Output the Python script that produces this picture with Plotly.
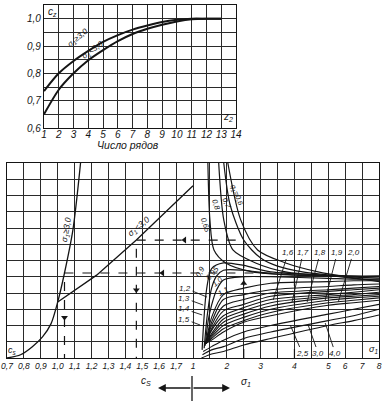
import plotly.graph_objects as go

# ---------------- top chart: c_z vs number of rows ----------------
rows = [1, 2, 3, 4, 5, 6, 7, 8, 9, 10, 11, 12, 13]
cz_sigma_ge3 = [0.735, 0.800, 0.845, 0.882, 0.915, 0.940, 0.960, 0.975, 0.988, 0.996, 1.000, 1.000, 1.000]
cz_sigma_lt3 = [0.650, 0.740, 0.800, 0.848, 0.885, 0.918, 0.944, 0.963, 0.978, 0.990, 0.998, 1.000, 1.000]
top_x_ticks = list(range(1, 15))
top_y_ticks = [0.6, 0.65, 0.7, 0.75, 0.8, 0.85, 0.9, 0.95, 1.0, 1.05]
top_y_text = ["0,6", "", "0,7", "", "0,8", "", "0,9", "", "1,0", ""]

# ---------------- bottom-left: c_s curves (grid rows as ordinate) ----------------
cs_ge3 = [0.70, 0.78, 0.85, 0.91, 0.96, 1.00, 1.04, 1.09, 1.135]
row_ge3 = [0.0, 0.2, 0.7, 1.3, 2.1, 3.45, 5.23, 7.9, 12.0]
cs_lt3 = [1.00, 1.23, 1.465, 1.76, 1.80]
row_lt3 = [3.45, 5.1, 7.26, 10.2, 10.6]
cs_ticks = [0.7, 0.8, 0.9, 1.0, 1.1, 1.2, 1.3, 1.4, 1.5, 1.6, 1.7]
cs_tick_text = ["0,7", "0,8", "0,9", "1,0", "1,1", "1,2", "1,3", "1,4", "1,5", "1,6", "1,7"]

# ---------------- bottom-right: sigma_1 family ----------------
sigma_ticks = [1, 2, 3, 4, 5, 6, 7, 8]
sigma_half_grid = [1.5, 2.5, 3.5, 4.5]

# descending curves
desc_065_s = [1.44, 1.50, 1.62, 1.97, 2.76, 4.0, 5.0]
desc_065_r = [12.0, 8.5, 6.65, 5.85, 5.3, 5.1, 5.05]
desc_08_s = [1.76, 1.91, 2.18, 2.85, 3.74, 5.0, 6.5, 8.0]
desc_08_r = [12.0, 8.5, 6.65, 5.85, 5.3, 5.05, 4.98, 4.92]
desc_07_s = [1.91, 2.1, 2.5, 3.0, 3.5, 4.24, 5.0, 6.5, 8.0]
desc_07_r = [12.0, 9.4, 7.26, 6.15, 5.65, 5.3, 5.1, 4.9, 4.8]
desc_06_s = [2.03, 2.41, 2.91, 3.74, 4.7, 6.0, 8.0]
desc_06_r = [12.0, 8.5, 6.65, 5.85, 5.3, 5.0, 4.7]

# peaked rising curves
rise_09_s = [1.27, 1.32, 1.4, 1.55, 1.9, 2.5, 3.3, 5.0, 6.5, 8.0]
rise_09_r = [0.5, 2.3, 4.2, 5.5, 5.85, 5.7, 5.3, 5.1, 5.05, 5.05]
rise_095_s = [1.33, 1.42, 1.55, 1.7, 1.9, 2.5, 3.3, 5.0, 6.5, 8.0]
rise_095_r = [0.6, 2.6, 4.3, 5.05, 5.4, 5.4, 5.2, 5.05, 5.0, 5.0]
rise_10_s = [1.36, 1.45, 1.55, 1.7, 1.9, 2.5, 3.3, 5.0, 6.5, 8.0]
rise_10_r = [0.75, 2.3, 3.25, 4.2, 4.8, 5.0, 5.0, 4.9, 4.85, 4.85]

# gradually rising curves (start point + values on a common sigma grid)
rise_names = ["1,1", "1,2", "1,3", "1,4", "1,5", "1,6", "1,7", "1,8", "1,9", "2,0", "2,5", "3,0", "4,0"]
rise_start_s = [1.38, 1.38, 1.38, 1.38, 1.38, 1.38, 1.38, 1.38, 1.38, 1.38, 1.30, 1.28, 1.25]
rise_start_r = [0.9, 0.9, 0.9, 0.9, 0.9, 0.9, 0.9, 0.9, 0.9, 0.9, 0.4, 0.2, 0.0]
rise_grid_s = [1.55, 1.9, 2.5, 3.3, 5.0, 6.5, 8.0]
rise_r = [
    [2.5, 3.9, 4.3, 4.6, 4.7, 4.75, 4.75],
    [2.2, 3.6, 3.9, 4.2, 4.4, 4.5, 4.55],
    [2.0, 3.2, 3.6, 4.0, 4.2, 4.3, 4.4],
    [1.8, 2.9, 3.3, 3.8, 4.1, 4.2, 4.3],
    [1.7, 2.6, 3.1, 3.6, 3.9, 4.05, 4.2],
    [1.5, 2.4, 2.9, 3.4, 3.8, 3.9, 4.05],
    [1.4, 2.2, 2.7, 3.2, 3.7, 3.8, 3.9],
    [1.3, 2.0, 2.5, 3.0, 3.55, 3.7, 3.8],
    [1.2, 1.8, 2.3, 2.8, 3.4, 3.55, 3.7],
    [1.1, 1.6, 2.2, 2.6, 3.25, 3.4, 3.55],
    [0.7, 1.1, 1.6, 2.0, 2.7, 3.0, 3.3],
    [0.5, 0.7, 1.2, 1.6, 2.3, 2.6, 3.0],
    [0.25, 0.4, 0.8, 1.2, 2.0, 2.3, 2.65],
]

# worked examples (dashed paths)
ex_a_sigma, ex_a_row, ex_a_cs = 4.0, 5.23, 1.04
ex_b_sigma, ex_b_row, ex_b_cs = 2.5, 7.26, 1.465

# ---------------- axis composition: cs (left) | sigma_1 (right) ----------------
def cu(c):
    return (c - 0.7) / 0.1


def su(s):
    return 11 + 2 * (s - 1) if s <= 5 else 19 + (s - 5)


INK = "#151515"
FONT = "Liberation Sans"
fig = go.Figure()


def line(x, y, xa="x2", ya="y2", w=1.3, dash="solid", shape="spline"):
    fig.add_trace(go.Scatter(x=x, y=y, xaxis=xa, yaxis=ya, mode="lines",
                             line=dict(color=INK, width=w, dash=dash, shape=shape, smoothing=0.8),
                             hoverinfo="skip"))


# top chart curves
line(rows, cz_sigma_ge3, "x", "y", 2.0)
line(rows, cz_sigma_lt3, "x", "y", 2.0)

# left curves
line([cu(c) for c in cs_ge3], row_ge3)
line([cu(c) for c in cs_lt3], row_lt3, shape="linear")

# right family
for s, r in [(desc_065_s, desc_065_r), (desc_08_s, desc_08_r), (desc_07_s, desc_07_r), (desc_06_s, desc_06_r),
             (rise_09_s, rise_09_r), (rise_095_s, rise_095_r), (rise_10_s, rise_10_r)]:
    line([su(v) for v in s], r, w=1.2)
for i in range(len(rise_names)):
    s = [rise_start_s[i]] + rise_grid_s
    r = [rise_start_r[i]] + rise_r[i]
    line([su(v) for v in s], r, w=1.1)

# dashed example paths
line([su(ex_a_sigma), su(ex_a_sigma), cu(ex_a_cs), cu(ex_a_cs)], [0, ex_a_row, ex_a_row, 0],
     dash="dash", shape="linear", w=1.2)
line([su(ex_b_sigma), su(ex_b_sigma), cu(ex_b_cs), cu(ex_b_cs)], [0, ex_b_row, ex_b_row, 0],
     dash="dash", shape="linear", w=1.2)

# direction arrows on the example paths
fig.add_trace(go.Scatter(
    x=[cu(1.62), cu(1.75), cu(ex_a_cs), cu(ex_b_cs), su(ex_b_sigma)],
    y=[ex_a_row, ex_b_row, 2.5, 4.18, 4.6],
    xaxis="x2", yaxis="y2", mode="markers", hoverinfo="skip",
    marker=dict(symbol=["triangle-left", "triangle-left", "triangle-down", "triangle-down", "triangle-up"],
                size=6, color=INK)))

# ---------------- axes ----------------
bottom_tickvals = [cu(c) for c in cs_ticks] + [su(s) for s in sigma_ticks] + [su(s) for s in sigma_half_grid]
bottom_ticktext = cs_tick_text + [str(s) for s in sigma_ticks] + ["" for _ in sigma_half_grid]

axis_common = dict(showline=True, mirror=True, linecolor=INK, linewidth=1.2, showgrid=True,
                   gridcolor="#2a2a2a", gridwidth=0.8, ticks="", zeroline=False, automargin=False,
                   tickfont=dict(family=FONT, size=10, color=INK, style="italic"))

fig.update_layout(
    width=382, height=404, margin=dict(l=0, r=0, t=0, b=0, autoexpand=False),
    paper_bgcolor="white", plot_bgcolor="white", showlegend=False,
    font=dict(family=FONT, color=INK, style="italic"),
    xaxis=dict(domain=[44 / 382, 236 / 382], range=[1, 14], tickmode="array", tickvals=top_x_ticks,
               ticktext=[str(v) for v in top_x_ticks], anchor="y", ticklabelstandoff=-3, **axis_common),
    yaxis=dict(domain=[1 - 128 / 404, 1 - 5 / 404], range=[0.6, 1.05], tickmode="array",
               tickvals=top_y_ticks, ticktext=top_y_text, anchor="x", **axis_common),
    xaxis2=dict(domain=[7 / 382, 379 / 382], range=[0, 22], tickmode="array",
                tickvals=bottom_tickvals, ticktext=bottom_ticktext, anchor="y2",
                **{**axis_common, "tickfont": dict(family=FONT, size=8.5, color=INK, style="italic")}),
    yaxis2=dict(domain=[1 - 358 / 404, 1 - 163 / 404], range=[0, 12], tickmode="array",
                tickvals=list(range(0, 13)), showticklabels=False, anchor="x2", **axis_common),
)

# ---------------- text ----------------
def txt(x, y, t, xref="x2", yref="y2", size=9, angle=0, **kw):
    fig.add_annotation(x=x, y=y, xref=xref, yref=yref, text=t, showarrow=False, textangle=angle,
                       font=dict(family=FONT, size=size, color=INK, style="italic"), **kw)


# top chart
txt(1.55, 1.024, "c<sub>z</sub>", "x", "y", 10)
txt(13.45, 0.64, "z<sub>2</sub>", "x", "y", 10)
txt(3.3, 0.93, "σ<sub>1</sub>≥3,0", "x", "y", 8, -40)
txt(4.35, 0.884, "σ<sub>1</sub><3,0", "x", "y", 8, -36)
txt(128 / 382, 1 - 145 / 404, "Число рядов", "paper", "paper", 10.5)

# bottom-left
txt(cu(1.053), 7.9, "σ<sub>1</sub>≥3,0", size=8.5, angle=-80)
txt(cu(1.48), 8.1, "σ<sub>1</sub><3,0", size=8.5, angle=-40)
txt(0.35, 0.45, "c<sub>s</sub>", size=9)
txt(21.7, 0.5, "σ<sub>1</sub>", size=9)

# descending-curve labels
txt(11.72, 8.2, "0,65", size=7.5, angle=72)
txt(12.34, 9.42, "0,8", size=7.5, angle=72)
txt(12.96, 9.54, "0,7", size=7.5, angle=68)
txt(13.6, 9.97, "q<sub>1</sub>=0,6", size=7.5, angle=68)

# peaked-curve labels
txt(11.45, 5.3, "0,9", size=7.5, angle=-62)
txt(12.13, 5.2, "0,95", size=7.5, angle=-50)
txt(12.45, 4.72, "1,0", size=7.5, angle=-40)
txt(12.78, 4.08, "1,1", size=7.5, angle=-30)


def lead(tip_x, tip_y, t, ax, ay):
    fig.add_annotation(x=tip_x, y=tip_y, xref="x2", yref="y2", text=t, showarrow=True,
                       arrowhead=0, arrowwidth=0.9, arrowcolor=INK, ax=ax, ay=ay,
                       font=dict(family=FONT, size=8, color=INK, style="italic"))


lead(11.83, 3.75, "1,2", -22, -9)
lead(11.60, 3.26, "1,3", -19, -7)
lead(11.54, 2.65, "1,4", -18, -6)
lead(11.42, 2.03, "1,5", -16, -6)
lead(15.74, 3.57, "1,6", 15, -47)
lead(16.86, 3.45, "1,7", 11, -49)
lead(17.75, 3.45, "1,8", 13, -49)
lead(18.82, 3.57, "1,9", 12, -47)
lead(19.59, 3.45, "2,0", 15, -49)
lead(16.75, 2.03, "2,5", 12, 28)
lead(17.81, 2.03, "3,0", 10, 28)
lead(18.82, 2.15, "4,0", 10, 30)

# direction legend under the bottom chart
fig.add_annotation(x=158 / 382, y=1 - 388 / 404, xref="paper", yref="paper", ax=34, ay=0,
                   text="", showarrow=True, arrowhead=2, arrowsize=1.2, arrowwidth=1.3, arrowcolor=INK)
fig.add_annotation(x=230 / 382, y=1 - 388 / 404, xref="paper", yref="paper", ax=-38, ay=0,
                   text="", showarrow=True, arrowhead=2, arrowsize=1.2, arrowwidth=1.3, arrowcolor=INK)
fig.add_shape(type="line", xref="paper", yref="paper", x0=192 / 382, x1=192 / 382,
              y0=1 - 376 / 404, y1=1 - 401 / 404, line=dict(color=INK, width=1.3))
txt(146 / 382, 1 - 389 / 404, "c<sub>S</sub>", "paper", "paper", 10)
txt(246 / 382, 1 - 390 / 404, "σ<sub>1</sub>", "paper", "paper", 10)

fig.write_html("out.html", config={"displayModeBar": False},
               post_script="document.body.style.margin='0';document.body.style.padding='0';"
                           "document.body.style.overflow='hidden';")
